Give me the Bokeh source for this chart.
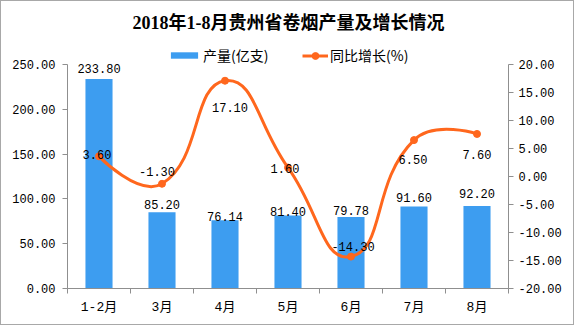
import numpy as np
from bokeh.plotting import figure
from bokeh.models import (Range1d, LinearAxis, FixedTicker, PrintfTickFormatter,
                          CustomJSTickFormatter, ColumnDataSource, Label, Legend, LegendItem)
from bokeh.core.properties import value
from bokeh.embed import file_html
from bokeh.resources import INLINE

# ---------------- data ----------------
categories = ["1-2月", "3月", "4月", "5月", "6月", "7月", "8月"]
output = [233.80, 85.20, 76.14, 81.40, 79.78, 91.60, 92.20]        # 产量(亿支)
growth = [3.60, -1.30, 17.10, 1.60, -14.30, 6.50, 7.60]            # 同比增长(%)
output_ticks = [0, 50, 100, 150, 200, 250]
growth_ticks = [-20, -15, -10, -5, 0, 5, 10, 15, 20]
title_text = "2018年1-8月贵州省卷烟产量及增长情况"
bar_name = "产量(亿支)"
line_name = "同比增长(%)"

# ---------------- styles ----------------
BAR_COLOR = "#3d9df0"
LINE_COLOR = "#ff671d"
AXIS_COLOR = "#8f8f8f"
NUM_FONT = "Liberation Mono, Noto Sans CJK SC"
CJK_FONT = "Noto Sans CJK SC"
bar_label_dy = [-11, -8, -4, -4, -7, -9, -12]
growth_label_dx = [-2, -5, 5, -3, 2, -1, 0]
growth_label_dy = [-2, -12, 27, 1, -10, 19, 21]

n = len(categories)
xc = np.arange(n) + 0.5

# the frame also covers the header area; axes are bounded to the data ranges
FRAME_H = 287.0          # px, frame height (top of canvas to x axis)
AXIS_H = 224.0           # px, height of the value axes
top_out = output_ticks[-1] * FRAME_H / AXIS_H
g0, g1 = growth_ticks[0], growth_ticks[-1]
top_pct = g0 + (g1 - g0) * FRAME_H / AXIS_H

p = figure(width=574, height=325, output_backend="svg", toolbar_location=None,
           x_range=Range1d(0, n), y_range=Range1d(0, top_out),
           min_border_left=66, min_border_right=67, min_border_top=0, min_border_bottom=38,
           background_fill_color="white", border_fill_color="white")
p.styles = {"border": "1px solid #a8a8a8"}
p.outline_line_color = None
p.grid.visible = False
p.xaxis.visible = False
p.yaxis.visible = False
p.extra_y_ranges = {"pct": Range1d(g0, top_pct)}

# axes
xaxis = LinearAxis(ticker=FixedTicker(ticks=list(xc), minor_ticks=list(range(n + 1))),
                   formatter=CustomJSTickFormatter(args=dict(labels=categories),
                                                   code="return labels[Math.round(tick - 0.5)]"))
xaxis.axis_line_color = AXIS_COLOR
xaxis.major_tick_line_color = None
xaxis.minor_tick_line_color = AXIS_COLOR
xaxis.minor_tick_out = 5
xaxis.minor_tick_in = 0
xaxis.major_label_standoff = 5
xaxis.major_label_text_font = NUM_FONT
xaxis.major_label_text_font_size = "13px"
xaxis.major_label_text_color = "black"
p.add_layout(xaxis, "below")

yl = LinearAxis(ticker=FixedTicker(ticks=output_ticks), formatter=PrintfTickFormatter(format="%.2f"),
                bounds=(output_ticks[0], output_ticks[-1]))
yr = LinearAxis(y_range_name="pct", ticker=FixedTicker(ticks=growth_ticks),
                formatter=PrintfTickFormatter(format="%.2f"), bounds=(g0, g1))
for ax in (yl, yr):
    ax.axis_line_color = AXIS_COLOR
    ax.major_tick_line_color = AXIS_COLOR
    ax.major_tick_out = 5
    ax.major_tick_in = 0
    ax.minor_tick_line_color = None
    ax.major_label_text_font = NUM_FONT
    ax.major_label_text_font_size = "12px"
    ax.major_label_text_color = "black"
yl.major_label_standoff = 7
yr.major_label_standoff = 5
p.add_layout(yl, "left")
p.add_layout(yr, "right")

# bars
src = ColumnDataSource(dict(x=xc, y=output, lab=["%.2f" % v for v in output], dy=bar_label_dy))
bars = p.vbar(x="x", top="y", width=0.43, source=src, fill_color=BAR_COLOR, line_color=None)
p.text(x="x", y="y", text="lab", source=src, text_align="center", text_baseline="alphabetic",
       y_offset="dy", text_font=value("Liberation Mono"), text_font_size="12px", text_color="black")

# smooth line (echarts-like bezier smoothing, computed in pixel space)
smooth = 0.5
kx = 63.0
ky = AXIS_H / (g1 - g0)
P = np.column_stack([xc * kx, np.array(growth) * ky])
cpl = P.copy()
cpr = P.copy()
for i in range(1, n - 1):
    v = (P[i + 1] - P[i - 1]) * smooth
    d0 = np.hypot(*(P[i] - P[i - 1]))
    d1 = np.hypot(*(P[i + 1] - P[i]))
    s = d0 + d1
    cpl[i] = P[i] - v * d0 / s
    cpr[i] = P[i] + v * d1 / s
bz = ColumnDataSource(dict(
    x0=P[:-1, 0] / kx, y0=P[:-1, 1] / ky, x1=P[1:, 0] / kx, y1=P[1:, 1] / ky,
    cx0=cpr[:-1, 0] / kx, cy0=cpr[:-1, 1] / ky, cx1=cpl[1:, 0] / kx, cy1=cpl[1:, 1] / ky))
curve = p.bezier(x0="x0", y0="y0", x1="x1", y1="y1", cx0="cx0", cy0="cy0", cx1="cx1", cy1="cy1",
                 source=bz, line_color=LINE_COLOR, line_width=3, y_range_name="pct")
gsrc = ColumnDataSource(dict(x=xc, y=growth, lab=["%.2f" % v for v in growth],
                             dx=growth_label_dx, dy=growth_label_dy))
dots = p.scatter(x="x", y="y", source=gsrc, size=7, fill_color=LINE_COLOR, line_color=LINE_COLOR,
                 y_range_name="pct")
p.text(x="x", y="y", text="lab", source=gsrc, x_offset="dx", y_offset="dy", y_range_name="pct",
       text_align="center", text_baseline="middle", text_font=value("Liberation Mono"),
       text_font_size="12px", text_color="black")

# title
p.add_layout(Label(x=221, y=266, x_units="screen", y_units="screen", text=title_text,
                   text_align="center", text_baseline="middle",
                   text_font="Liberation Serif, Noto Sans CJK SC", text_font_style="bold",
                   text_font_size="18px", text_color="black"))

# legends
def make_legend(item, x, gw, gh):
    lg = Legend(items=[item], location=(x, 223), orientation="horizontal",
                glyph_width=gw, glyph_height=gh, label_height=gh, label_standoff=2,
                padding=0, margin=0, spacing=0, border_line_color=None,
                background_fill_alpha=0, label_text_font=CJK_FONT,
                label_text_font_size="14px", label_text_color="black")
    p.add_layout(lg, "center")

make_legend(LegendItem(label=bar_name, renderers=[bars]), 100, 34, 8)
make_legend(LegendItem(label=line_name, renderers=[curve, dots]), 235, 26, 17)

open("out.html", "w").write(file_html(p, INLINE))
